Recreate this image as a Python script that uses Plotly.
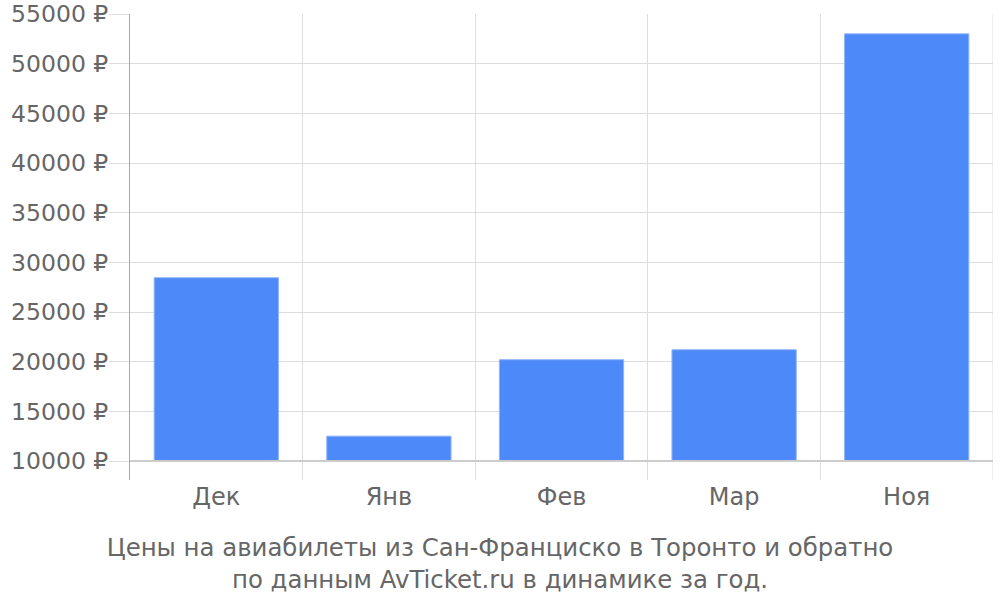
import plotly.graph_objects as go

months = ["Дек", "Янв", "Фев", "Мар", "Ноя"]
prices = [28450, 12500, 20200, 21200, 53000]
base_value = 10000
y_ticks = [10000, 15000, 20000, 25000, 30000, 35000, 40000, 45000, 50000, 55000]
title_text = "Цены на авиабилеты из Сан-Франциско в Торонто и обратно<br>по данным AvTicket.ru в динамике за год."

positions = list(range(len(months)))
boundaries = [p - 0.5 for p in positions] + [positions[-1] + 0.5]

fig = go.Figure(go.Bar(
    x=positions,
    y=[v - base_value for v in prices],
    base=base_value,
    width=0.72,
    marker=dict(color="#4e89f9", line=dict(color="#8fb4fb", width=1)),
))

font_color = "#666666"
fig.update_layout(
    width=1000, height=600,
    margin=dict(l=130, r=7, t=14, b=120),
    plot_bgcolor="white", paper_bgcolor="white",
    font=dict(family="DejaVu Sans", size=23.5, color=font_color),
    showlegend=False,
    title=dict(text=title_text, x=0.5, xref="container", xanchor="center",
               y=1 - 556 / 600, yref="container", yanchor="middle",
               font=dict(size=24.4, color=font_color)),
    xaxis=dict(
        range=[boundaries[0], boundaries[-1]],
        tickmode="array", tickvals=positions, ticktext=months,
        showgrid=False, zeroline=False, ticks="", automargin=False,
        minor=dict(tickvals=boundaries, showgrid=True, gridcolor="#dddddd", gridwidth=1, ticks=""),
        tickfont=dict(size=24, color=font_color),
    ),
    yaxis=dict(
        range=[8088, 55000], automargin=False,
        tickmode="array", tickvals=y_ticks,
        ticktext=[f"{v} ₽" for v in y_ticks],
        showgrid=True, gridcolor="#dddddd", gridwidth=1,
        zeroline=False,
        showline=True, linecolor="#aaaaaa", linewidth=1,
        ticks="outside", ticklen=20, tickcolor="#dddddd", tickwidth=1,
        ticklabelstandoff=-4,
        tickfont=dict(size=23.5, color=font_color),
    ),
)
fig.add_hline(y=base_value, line=dict(color="#cccccc", width=2), layer="above")
fig.add_vline(x=boundaries[-1], line=dict(color="#dddddd", width=1), layer="below")

fig.write_html("out.html", config={"displayModeBar": False},
               post_script="document.body.style.margin='0';document.body.style.overflow='hidden';")
